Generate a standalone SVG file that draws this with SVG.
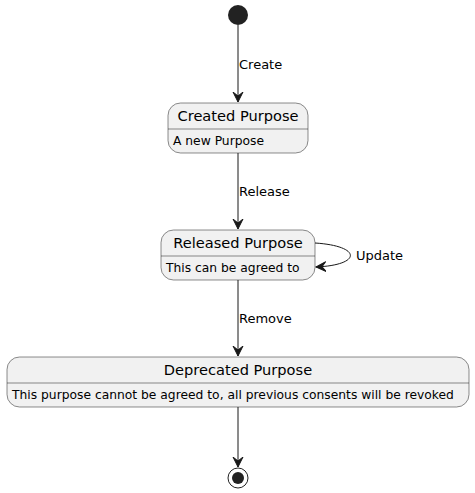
<svg xmlns="http://www.w3.org/2000/svg" width="475" height="493" viewBox="0 0 475 493">
<style>
.st{fill:#F1F1F1;stroke:#181818;stroke-width:0.5}
.sep{stroke:#181818;stroke-width:0.5}
.t{font-family:"DejaVu Sans",sans-serif;font-size:14.6px;fill:#000}
.b{font-family:"DejaVu Sans",sans-serif;font-size:12.3px;fill:#000}
.l{font-family:"DejaVu Sans",sans-serif;font-size:13px;fill:#000}
.c{fill:none;stroke:#181818;stroke-width:1}
</style>
<defs>
<marker id="ah" viewBox="0 0 12 12" refX="10" refY="6" markerWidth="12" markerHeight="12" markerUnits="userSpaceOnUse" orient="auto">
<path d="M0,1 L10,6 L0,11 L4,6 Z" fill="#181818" stroke="#181818" stroke-width="1"/>
</marker>
</defs>
<rect width="475" height="493" fill="#FFFFFF"/>
<g id="start"><circle cx="238" cy="15" r="10" fill="#222222"/></g>
<g id="created">
<rect class="st" x="168" y="103" width="140" height="50" rx="12.5"/>
<line class="sep" x1="168" y1="129" x2="308" y2="129"/>
<text class="t" x="238" y="121" text-anchor="middle">Created Purpose</text>
<text class="b" x="173" y="145">A new Purpose</text>
</g>
<g id="released">
<rect class="st" x="161" y="230" width="154" height="50" rx="12.5"/>
<line class="sep" x1="161" y1="256" x2="315" y2="256"/>
<text class="t" x="238" y="248" text-anchor="middle">Released Purpose</text>
<text class="b" x="166" y="272">This can be agreed to</text>
</g>
<g id="deprecated">
<rect class="st" x="7" y="357" width="462" height="50" rx="12.5"/>
<line class="sep" x1="7" y1="383" x2="469" y2="383"/>
<text class="t" x="238" y="375" text-anchor="middle">Deprecated Purpose</text>
<text class="b" x="12" y="399">This purpose cannot be agreed to, all previous consents will be revoked</text>
</g>
<g id="end">
<circle cx="238" cy="478" r="10" fill="none" stroke="#222222" stroke-width="1"/>
<circle cx="238" cy="478" r="6" fill="#222222"/>
</g>
<g id="connectors">
<line class="c" x1="238" y1="25" x2="238" y2="102" marker-end="url(#ah)"/>
<text class="l" x="239" y="69">Create</text>
<line class="c" x1="238" y1="153" x2="238" y2="229" marker-end="url(#ah)"/>
<text class="l" x="239" y="196">Release</text>
<path class="c" d="M315,243 C362,246 362,265 316,267" marker-end="url(#ah)"/>
<text class="l" x="356" y="260">Update</text>
<line class="c" x1="238" y1="280" x2="238" y2="356" marker-end="url(#ah)"/>
<text class="l" x="239" y="323">Remove</text>
<line class="c" x1="238" y1="407" x2="238" y2="467" marker-end="url(#ah)"/>
</g>
</svg>
